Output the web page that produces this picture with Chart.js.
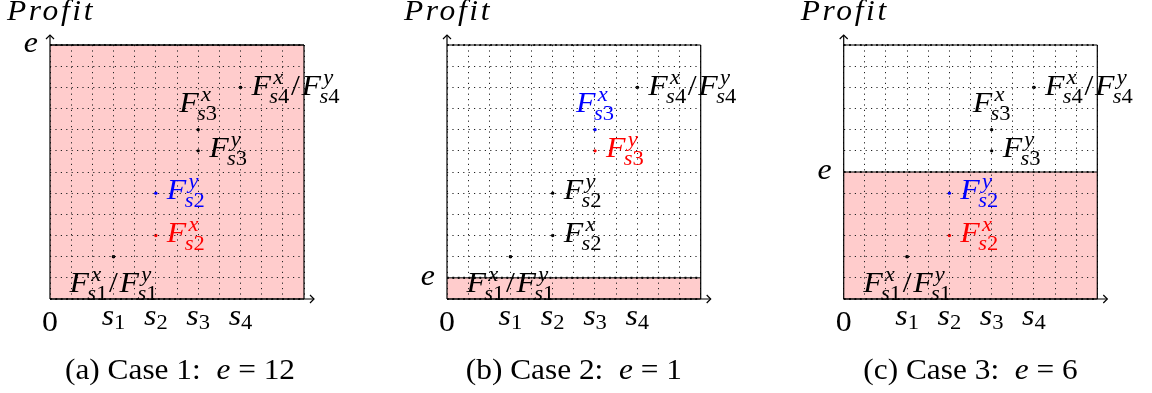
<!DOCTYPE html>
<html><head><meta charset="utf-8">
<script src="https://cdn.jsdelivr.net/npm/chart.js@4/dist/chart.umd.min.js"></script>
<style>
body{margin:0;background:#fff;width:1152px;height:393px;overflow:hidden;position:relative}
canvas{position:absolute;top:0}
</style></head><body>
<canvas id="c0" width="384" height="393" style="left:0px"></canvas>
<canvas id="c1" width="384" height="393" style="left:384px"></canvas>
<canvas id="c2" width="384" height="393" style="left:768px"></canvas>
<script>
// ---- data ----
const xCategories = ['s1', 's2', 's3', 's4'];
const sPositions = [3, 5, 7, 9];
const profitX = [2, 3, 8, 10];   // F^x_{si}
const profitY = [2, 5, 7, 10];   // F^y_{si}
const eValues = [12, 1, 6];
const caseLetters = ['a', 'b', 'c'];
const caseNumbers = [1, 2, 3];
const axisMax = 12;

// ---- styles ----
const panelPadding = [
  {left: 50, right: 80, top: 45, bottom: 94},
  {left: 63, right: 67.3, top: 45, bottom: 94},
  {left: 75.7, right: 54.7, top: 45, bottom: 94}
];
const colorX = [['#000','#f00','#000','#000'], ['#000','#000','#00f','#000'], ['#000','#f00','#000','#000']];
const colorY = [['#000','#00f','#000','#000'], ['#000','#000','#f00','#000'], ['#000','#00f','#000','#000']];
const K = 1.1, MAIN = 29, SCRIPT = 20.5, CAP = 28.5, SUBDY = 8, SUPDY = -11;

function fnt(it, sz){ return (it ? 'italic ' : '') + sz + 'px "Liberation Serif"'; }
function drawRuns(ctx, runs, x, base, align, k){
  let cur = 0; const marks = {}; const pos = [];
  for (const r of runs){
    ctx.font = fnt(r.it, r.sz);
    const wt = ctx.measureText(r.t).width;
    const start = (r.from ? marks[r.from] : cur) + (r.dx || 0);
    if (r.mark) marks[r.mark] = start;
    pos.push(start);
    cur = Math.max(cur, start + wt + (r.after || 0));
  }
  const W = cur * k;
  const left = align === 'center' ? x - W/2 : align === 'right' ? x - W : x;
  ctx.save(); ctx.translate(left, base); ctx.scale(k, 1);
  ctx.textBaseline = 'alphabetic'; ctx.textAlign = 'left';
  runs.forEach((r, i) => { ctx.font = fnt(r.it, r.sz); ctx.fillStyle = r.c || '#000'; ctx.fillText(r.t, pos[i], r.dy || 0); });
  ctx.restore();
  return W;
}
function fTerm(sup, idx, c){
  return [
    {t:'F', it:true, sz:MAIN, c},
    {t:'s', it:true, sz:SCRIPT, dy:SUBDY, dx:-1.5, mark:'a', c},
    {t:idx, it:false, sz:SCRIPT, dy:SUBDY, c},
    {t:sup, it:true, sz:SCRIPT, dy:SUPDY, from:'a', dx:3.5, c}
  ];
}
function pairTerm(idx){
  return [...fTerm('x', idx, '#000'), {t:'/', it:false, sz:MAIN, dx:1.5, after:1.5}, ...fTerm('y', idx, '#000')];
}
function dotted(ctx, x1, y1, x2, y2){
  ctx.save();
  ctx.strokeStyle = '#000'; ctx.lineWidth = 1; ctx.setLineDash([]);
  ctx.beginPath(); ctx.moveTo(x1, y1); ctx.lineTo(x2, y2); ctx.stroke();
  ctx.strokeStyle = '#111'; ctx.lineWidth = 2.2; ctx.setLineDash([1.8, 3.6]);
  ctx.beginPath(); ctx.moveTo(x1, y1); ctx.lineTo(x2, y2); ctx.stroke();
  ctx.restore();
}

const decor = {
  id: 'decor',
  afterDraw(chart){
    const i = chart.options.plugins.decor.panel;
    const ctx = chart.ctx, xs = chart.scales.x, ys = chart.scales.y;
    const x0 = xs.getPixelForValue(0), x1 = xs.getPixelForValue(axisMax);
    const y0 = ys.getPixelForValue(0), y1 = ys.getPixelForValue(axisMax);
    const ey = ys.getPixelForValue(eValues[i]);
    ctx.save();
    // frame
    ctx.strokeStyle = '#000'; ctx.lineWidth = 1.2;
    ctx.beginPath(); ctx.moveTo(x1, y0); ctx.lineTo(x1, y1); ctx.stroke();
    dotted(ctx, x0, y1, x1, y1);
    dotted(ctx, x0, y0, x1, y0);
    ctx.strokeStyle = '#000'; ctx.lineWidth = 1;
    ctx.beginPath(); ctx.moveTo(x0, ey); ctx.lineTo(x1, ey); ctx.stroke();
    // axes with arrows
    ctx.lineWidth = 1.2; ctx.strokeStyle = '#000';
    ctx.beginPath(); ctx.moveTo(x0, y0); ctx.lineTo(x1 + 10, y0); ctx.stroke();
    ctx.beginPath(); ctx.moveTo(x1 + 6, y0 - 4); ctx.lineTo(x1 + 10, y0); ctx.lineTo(x1 + 6, y0 + 4); ctx.stroke();
    ctx.beginPath(); ctx.moveTo(x0, y0); ctx.lineTo(x0, y1 - 10); ctx.stroke();
    ctx.beginPath(); ctx.moveTo(x0 - 4, y1 - 6); ctx.lineTo(x0, y1 - 10); ctx.lineTo(x0 + 4, y1 - 6); ctx.stroke();
    ctx.restore();

    // axis texts
    ctx.save();
    ctx.letterSpacing = '2.5px';
    drawRuns(ctx, [{t:'Profit', it:true, sz:30}], x0 - 43, 20, 'left', 1.05);
    ctx.letterSpacing = '0px';
    drawRuns(ctx, [{t:'e', it:true, sz:MAIN}], x0 - 12, ey + 7, 'right', K);
    drawRuns(ctx, [{t:'0', it:false, sz:MAIN}], x0, 331, 'center', K);
    xCategories.forEach((c, k) => {
      const px = xs.getPixelForValue(sPositions[k]);
      drawRuns(ctx, [{t:c[0], it:true, sz:MAIN}, {t:c.slice(1), it:false, sz:SCRIPT, dy:4}], px, 325, 'center', K);
    });
    // point labels
    xCategories.forEach((c, k) => {
      const idx = c.slice(1);
      const px = xs.getPixelForValue(sPositions[k]);
      const pyx = ys.getPixelForValue(profitX[k]);
      const pyy = ys.getPixelForValue(profitY[k]);
      if (profitX[k] === profitY[k]) {
        if (k === 0) drawRuns(ctx, pairTerm(idx), px, pyx + 35, 'center', K);
        else drawRuns(ctx, pairTerm(idx), px + 11, pyx + 8, 'left', K);
      } else {
        if (k === 2) drawRuns(ctx, fTerm('x', idx, colorX[i][k]), px, pyx - 18, 'center', K);
        else drawRuns(ctx, fTerm('x', idx, colorX[i][k]), px + 11, pyx + 6, 'left', K);
        drawRuns(ctx, fTerm('y', idx, colorY[i][k]), px + 11, pyy + 6, 'left', K);
      }
    });
    // caption
    drawRuns(ctx, [
      {t:'(' + caseLetters[i] + ') Case ' + caseNumbers[i] + ':  ', it:false, sz:CAP},
      {t:'e', it:true, sz:CAP},
      {t:' = ' + eValues[i], it:false, sz:CAP}
    ], (x0 + x1) / 2 + (i === 0 ? 3 : 0), 379, 'center', K);
    ctx.restore();
  }
};

function makeChart(i){
  const e = eValues[i];
  const scaleBase = {
    type: 'linear', min: 0, max: axisMax,
    ticks: {display: false, stepSize: 1},
    grid: {color: '#222', lineWidth: 1, drawTicks: false, z: 1},
    border: {display: false, dash: [1.2, 4.2]}
  };
  new Chart(document.getElementById('c' + i), {
    type: 'scatter',
    data: {datasets: [
      {type: 'line', data: [{x: 0, y: e}, {x: axisMax, y: e}], fill: 'origin',
       backgroundColor: 'rgba(255,0,0,0.2)', borderColor: '#111', borderWidth: 2.2,
       borderDash: [1.8, 3.6], pointRadius: 0, order: 3},
      {data: sPositions.map((s, k) => ({x: s, y: profitX[k]})), pointRadius: 1.7, pointBorderWidth: 0,
       pointBackgroundColor: colorX[i], order: 1},
      {data: sPositions.map((s, k) => ({x: s, y: profitY[k]})), pointRadius: 1.7, pointBorderWidth: 0,
       pointBackgroundColor: colorY[i], order: 1}
    ]},
    options: {
      responsive: false, animation: false, events: [],
      layout: {padding: panelPadding[i]},
      plugins: {legend: {display: false}, tooltip: {enabled: false}, decor: {panel: i}},
      scales: {
        x: Object.assign({}, scaleBase, {afterFit: s => { s.height = 0; }}),
        y: Object.assign({}, scaleBase, {afterFit: s => { s.width = 0; }})
      }
    },
    plugins: [decor]
  });
}
[0, 1, 2].forEach(makeChart);
</script>
</body></html>
